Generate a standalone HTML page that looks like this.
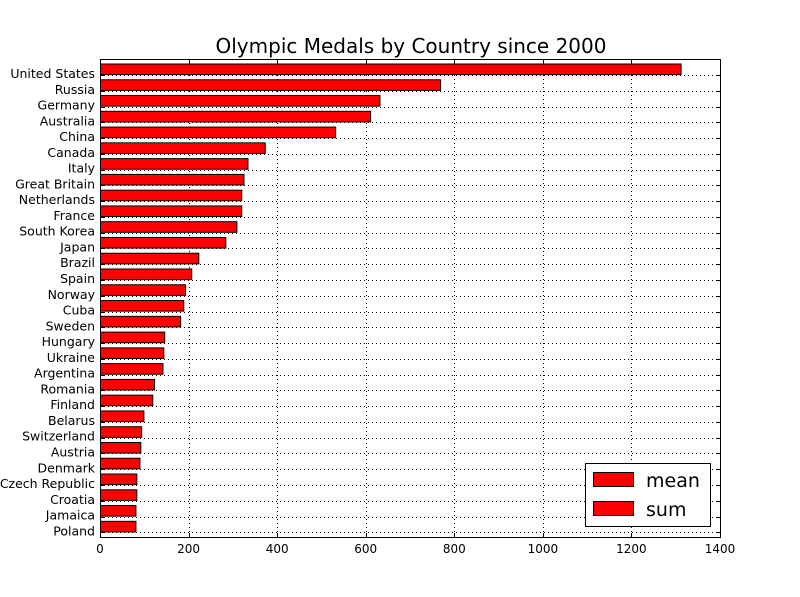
<!DOCTYPE html>
<html><head><meta charset="utf-8"><style>
body{margin:0;background:#fff;}
svg{display:block;font-family:"DejaVu Sans","Liberation Sans",sans-serif;}
</style></head><body>
<svg id="chart" width="800" height="597" viewBox="0 0 800 597">
<rect width="800" height="597" fill="#fff"/>
<text x="411" y="53" text-anchor="middle" font-size="20">Olympic Medals by Country since 2000</text>
<g id="grid"></g>
<g id="bars"></g>
<rect x="100.5" y="59.5" width="620" height="478" fill="none" stroke="#000" stroke-width="1"/>
<g id="ticks"></g>
<g>
<rect x="585.5" y="463.5" width="125" height="63" fill="#fff" stroke="#000"/>
<rect x="593.5" y="472.5" width="40" height="14" fill="#ff0000" stroke="#000"/>
<text x="646" y="487" font-size="19">mean</text>
<rect x="593.5" y="501.5" width="40" height="14" fill="#ff0000" stroke="#000"/>
<text x="646" y="516" font-size="19">sum</text>
</g>
</svg>
<script>
const countries=["United States","Russia","Germany","Australia","China","Canada","Italy","Great Britain","Netherlands","France","South Korea","Japan","Brazil","Spain","Norway","Cuba","Sweden","Hungary","Ukraine","Argentina","Romania","Finland","Belarus","Switzerland","Austria","Denmark","Czech Republic","Croatia","Jamaica","Poland"];
const medals=[1311,768,631,610,531,372,333,324,319,319,308,283,222,206,192,188,181,145,143,141,122,118,98,93,91,89,82,82,80,80];
const xTicks=[0,200,400,600,800,1000,1200,1400];
const NS="http://www.w3.org/2000/svg";
const X0=100,X1=720,Y0=59,Y1=537,XMAX=1400;
function xs(v){return X0+v/XMAX*(X1-X0);}
const step=15.77;
function ys(i){return 75+i*step;}
const grid=document.getElementById('grid'),bars=document.getElementById('bars'),ticks=document.getElementById('ticks');
function mk(tag,attrs,parent){const e=document.createElementNS(NS,tag);for(const k in attrs)e.setAttribute(k,attrs[k]);parent.appendChild(e);return e;}
xTicks.forEach(t=>{
  const x=Math.round(xs(t))+0.5;
  const g=mk('line',{x1:x,x2:x,y1:Y0,y2:Y1,stroke:'#000','stroke-dasharray':'1,3','stroke-width':1},grid);
  
  
  mk('line',{x1:x,x2:x,y1:Y1,y2:Y1-4,stroke:'#000'},ticks);
  mk('line',{x1:x,x2:x,y1:Y0,y2:Y0+4,stroke:'#000'},ticks);
  const lb=mk('text',{x:xs(t),y:553,'text-anchor':'middle','font-size':12},ticks);
  lb.textContent=t;
  
  
});
countries.forEach((c,i)=>{
  const y=Math.round(ys(i))+0.5;
  const g=mk('line',{x1:X0,x2:X1,y1:y,y2:y,stroke:'#000','stroke-dasharray':'1,3','stroke-width':1},grid);
  
  
  const b=mk('rect',{x:X0+0.5,y:ys(i)-11,width:xs(medals[i])-X0,height:10.6,fill:'#ff0000',stroke:'#000','stroke-width':1},bars);
  
  
  mk('line',{x1:X0,x2:X0+4,y1:y,y2:y,stroke:'#000'},ticks);
  mk('line',{x1:X1,x2:X1-4,y1:y,y2:y,stroke:'#000'},ticks);
  const lb=mk('text',{x:95,y:ys(i)+3,'text-anchor':'end','font-size':12.5},ticks);
  lb.textContent=c;
  
  
});
</script>
</body></html>
